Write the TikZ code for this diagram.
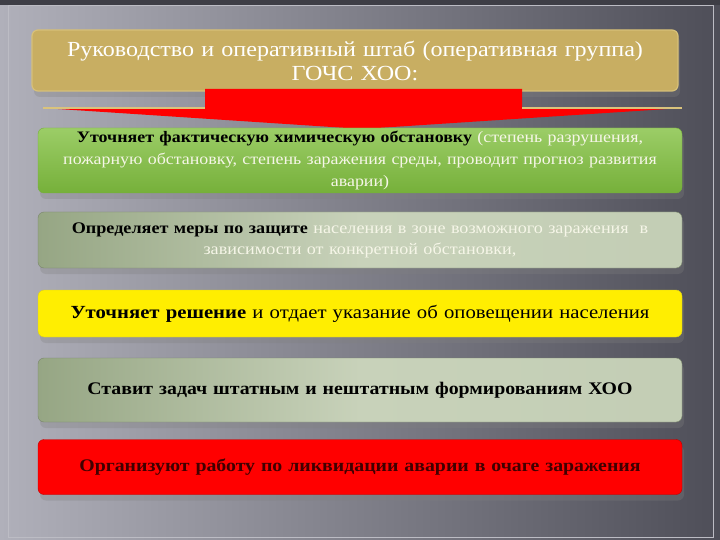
\documentclass[tikz,border=0pt]{standalone}
\usepackage{fontspec}
\setmainfont{Liberation Serif}[FakeStretch=1.12]
\usepackage{tikz}
\usetikzlibrary{shadows}

\definecolor{bgLight}{RGB}{176,176,186}
\definecolor{bgDark}{RGB}{78,78,88}
\definecolor{tanFill}{RGB}{200,174,98}
\definecolor{tanEdge}{RGB}{222,200,130}
\definecolor{leafGreen}{RGB}{138,196,76}
\definecolor{leafDark}{RGB}{118,176,58}
\definecolor{sageDark}{RGB}{150,166,132}
\definecolor{sageLight}{RGB}{200,210,186}
\definecolor{alarmRed}{RGB}{255,0,0}
\definecolor{paleText}{RGB}{246,246,232}

\tikzset{
	panel/.style={rounded corners=6pt, minimum width=644pt, text width=630pt, align=center, inner sep=0pt,
		drop shadow={opacity=0.3, shadow xshift=2pt, shadow yshift=-6pt}},
	sage/.style={panel, draw=sageDark!80!black, left color=sageDark, right color=sageLight!90!sageDark, middle color=sageLight}
}

\begin{document}
\begin{tikzpicture}[x=1pt, y=-1pt]
		\useasboundingbox (0,0) rectangle (720,540);
		\fill[left color=bgLight, right color=bgDark] (0,0) rectangle (720,540);
		\fill[bgDark!80!black] (0,0) rectangle (720,5);
		\draw[bgLight!85!white, line width=0.8pt] (8,5) rectangle (713,537);

		\node (hq) [panel, fill=tanFill, draw=tanEdge!70!tanFill, line width=1.2pt, minimum width=646pt, minimum height=61pt, text=white,
			font=\fontsize{21.5}{24}\selectfont] at (355,60.5) {Руководство и оперативный штаб (оперативная группа)\\ГОЧС ХОО:};

		\fill[alarmRed] (205,89) -- (522,89) -- (522,108) -- (682,108) -- (362,129) -- (43,108) -- (205,108) -- cycle;
		\draw[tanEdge!80!tanFill, line width=1.5pt] (43,108) -- (205,108) (522,108) -- (682,108);

		\node (task1) [panel, top color=leafGreen!85!white, bottom color=leafDark, draw=leafDark, minimum height=65pt,
			font=\fontsize{16}{22}\selectfont] at (360,160.5)
			{\textbf{Уточняет фактическую химическую обстановку} {\color{paleText}(степень разрушения,\\пожарную обстановку, степень заражения среды, проводит прогноз развития\\аварии)}};
		\node (task2) [sage, minimum height=56pt, font=\fontsize{16.2}{21}\selectfont] at (360,240)
			{\textbf{Определяет меры по защите} {\color{paleText}населения в зоне возможного заражения~ в\\зависимости от конкретной обстановки,}};
		\node (task3) [panel, fill=yellow!96!orange, draw=yellow!80!black, minimum height=47pt, font=\fontsize{18.5}{22}\selectfont] at (360,313.5)
			{\textbf{Уточняет решение} и отдает указание об оповещении населения};
		\node (task4) [sage, minimum height=64pt, font=\fontsize{17.7}{22}\selectfont] at (360,390)
			{\textbf{Ставит задач штатным и нештатным формированиям ХОО}};
		\node (task5) [panel, fill=alarmRed, draw=alarmRed!75!black, minimum height=55pt, text=red!25!black, font=\fontsize{17.7}{22}\selectfont] at (360,467)
			{\textbf{Организуют работу по ликвидации аварии в очаге заражения}};
	\end{tikzpicture}
\end{document}
